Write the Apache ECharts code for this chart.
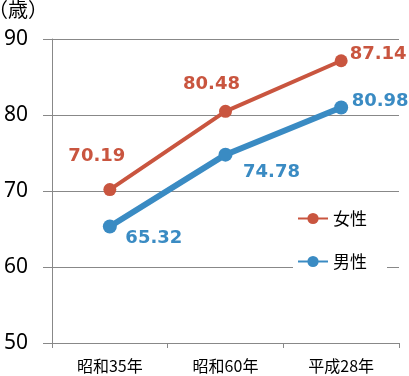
<!DOCTYPE html>
<html>
<head>
<meta charset="utf-8">
<script src="https://cdn.jsdelivr.net/npm/echarts@6/dist/echarts.min.js"></script>
<style>html,body{margin:0;padding:0;background:#fff}#chart{width:409px;height:376px}</style>
</head>
<body>
<div id="chart"></div>
<script>
var chart = echarts.init(document.getElementById("chart"));

let categories = ["昭和35年", "昭和60年", "平成28年"];
let female = [70.19, 80.48, 87.14];
let male = [65.32, 74.78, 80.98];
let yTicks = [50, 60, 70, 80, 90];

// label offsets (px) from each point
let femaleOffsets = [[-13, -33], [-14, -27], [37, -6]];
let maleOffsets = [[44, 12], [46, 18], [39, -6]];

var red = "#C9553F";
var blue = "#3A8BC3";
var font = "'Noto Sans CJK JP', sans-serif";

function withLabels(vals, offs, color) {
  return vals.map(function (v, i) {
    return {
      value: v,
      label: {
        show: true,
        position: "inside",
        offset: offs[i],
        color: color,
        fontSize: 18,
        fontWeight: "bold",
        fontFamily: "'DejaVu Sans', sans-serif"
      }
    };
  });
}

chart.setOption({
  animation: false,
  title: {
    text: "（歳）",
    left: -12,
    top: -1,
    padding: 0,
    textStyle: { fontSize: 20, fontWeight: "normal", color: "#000", fontFamily: font }
  },
  grid: { left: 52, right: 10, top: 39, bottom: 33 },
  legend: {
    orient: "vertical",
    left: 293,
    top: 208,
    itemGap: 26,
    itemWidth: 30,
    itemHeight: 14,
    backgroundColor: "#fff",
    padding: [2, 20, 2, 4],
    textStyle: { fontSize: 17, color: "#000", fontFamily: font },
    data: ["女性", "男性"]
  },
  xAxis: {
    type: "category",
    data: categories,
    axisLine: { lineStyle: { color: "#888", width: 1 } },
    axisTick: { show: true, length: 5, lineStyle: { color: "#888" } },
    axisLabel: { color: "#000", fontSize: 16, margin: 15, fontFamily: font }
  },
  yAxis: {
    type: "value",
    min: yTicks[0],
    max: yTicks[yTicks.length - 1],
    interval: 10,
    axisLine: { show: true, lineStyle: { color: "#888", width: 1 } },
    axisTick: { show: true, length: 9, lineStyle: { color: "#888" } },
    axisLabel: { color: "#000", fontSize: 21, margin: 24, fontFamily: "'Noto Sans', sans-serif" },
    splitLine: { lineStyle: { color: "#888", width: 1 } }
  },
  series: [
    {
      name: "女性",
      type: "line",
      data: withLabels(female, femaleOffsets, red),
      color: red,
      lineStyle: { width: 4 },
      symbol: "circle",
      symbolSize: 13
    },
    {
      name: "男性",
      type: "line",
      data: withLabels(male, maleOffsets, blue),
      color: blue,
      lineStyle: { width: 6 },
      symbol: "circle",
      symbolSize: 14
    }
  ]
});
</script>
</body>
</html>
